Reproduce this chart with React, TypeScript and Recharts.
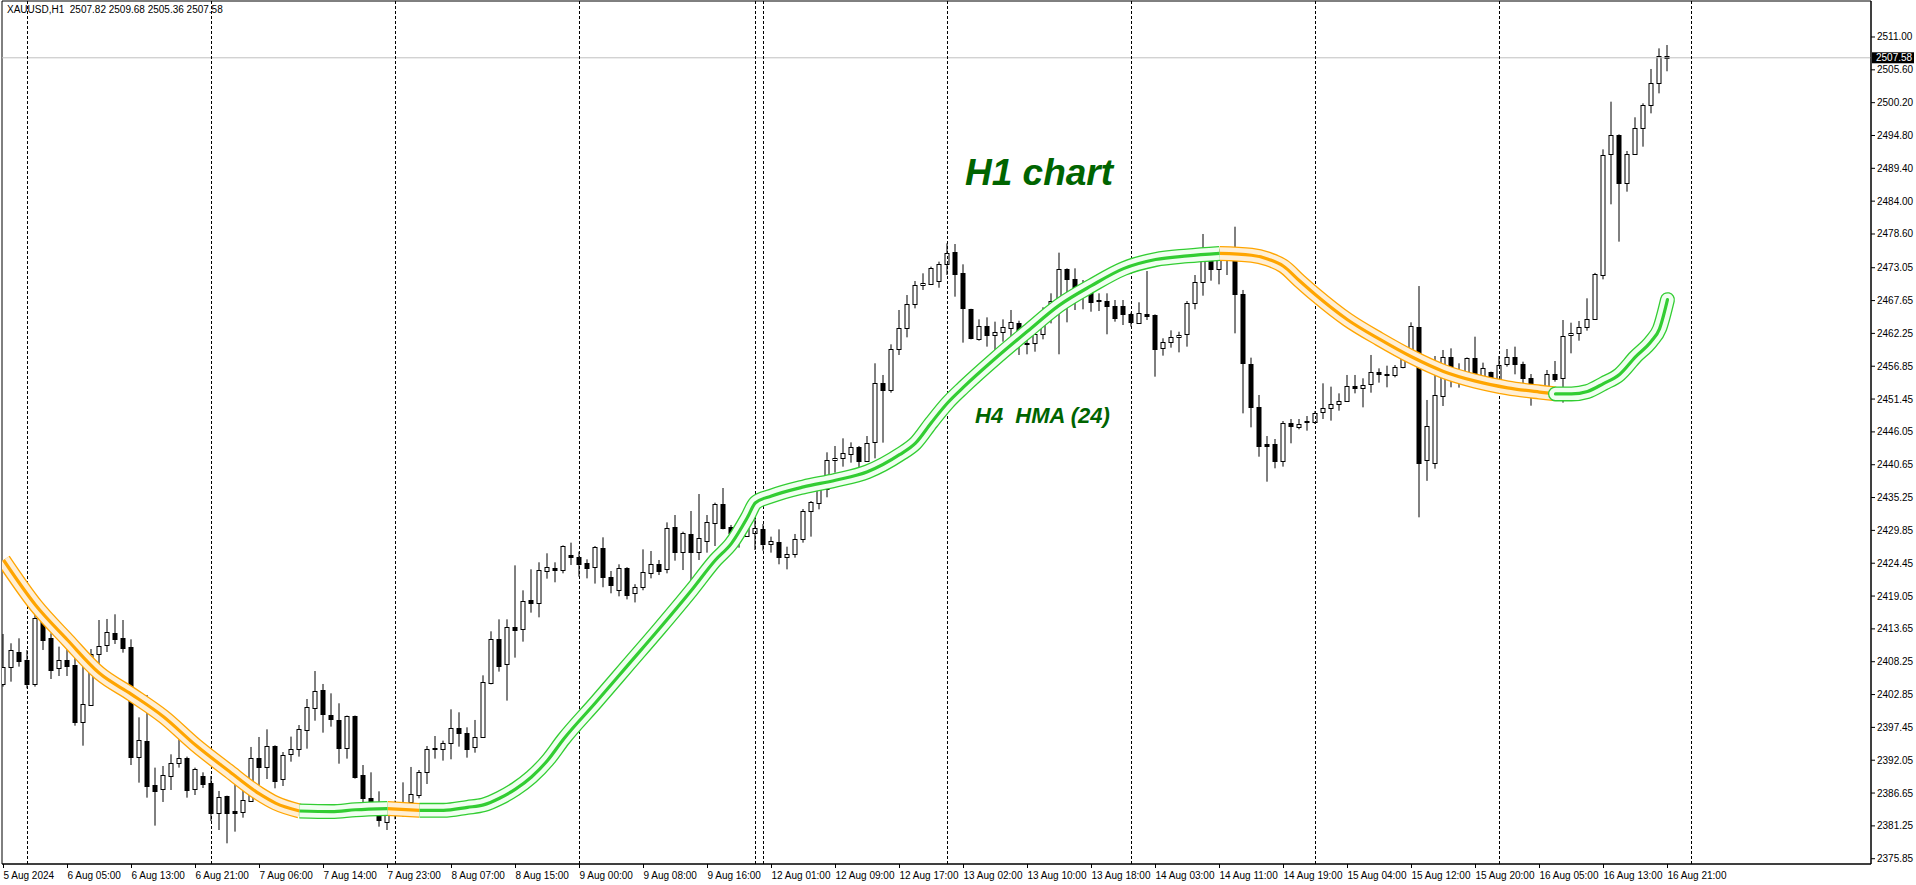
import { ComposedChart, Bar, Line, XAxis, YAxis, ReferenceLine, ReferenceArea } from 'recharts';

const timeLabels = [
  '5 Aug 2024', '6 Aug 05:00', '6 Aug 13:00', '6 Aug 21:00', '7 Aug 06:00', '7 Aug 14:00', '7 Aug 23:00',
  '8 Aug 07:00', '8 Aug 15:00', '9 Aug 00:00', '9 Aug 08:00', '9 Aug 16:00', '12 Aug 01:00', '12 Aug 09:00',
  '12 Aug 17:00', '13 Aug 02:00', '13 Aug 10:00', '13 Aug 18:00', '14 Aug 03:00', '14 Aug 11:00', '14 Aug 19:00',
  '15 Aug 04:00', '15 Aug 12:00', '15 Aug 20:00', '16 Aug 05:00', '16 Aug 13:00', '16 Aug 21:00',
];
const barsPerLabel = 8;

const priceTicks = [
  2511.0, 2505.6, 2500.2, 2494.8, 2489.4, 2484.0, 2478.6, 2473.05, 2467.65, 2462.25, 2456.85, 2451.45, 2446.05,
  2440.65, 2435.25, 2429.85, 2424.45, 2419.05, 2413.65, 2408.25, 2402.85, 2397.45, 2392.05, 2386.65, 2381.25, 2375.85,
];
const lastPrice = 2507.58;

// H1 bars, 5 Aug 21:00 .. 16 Aug 21:00
const opens = [
  2404.53, 2407.33, 2409.79, 2408.53, 2404.53, 2415.39, 2412.10, 2407.16, 2408.48, 2407.71,
  2398.39, 2401.19, 2409.47, 2410.95, 2412.97, 2412.15, 2410.67, 2392.64, 2395.21, 2387.97,
  2387.26, 2389.40, 2391.54, 2392.47, 2387.26, 2389.46, 2388.25, 2383.42, 2386.17, 2383.70,
  2383.59, 2385.40, 2392.42, 2390.99, 2394.39, 2388.91, 2393.02, 2393.84, 2396.97, 2400.69,
  2403.55, 2399.49, 2398.67, 2394.11, 2399.27, 2389.62, 2385.78, 2385.23, 2381.84, 2383.26,
  2384.25, 2385.12, 2386.28, 2390.06, 2394.06, 2393.95, 2394.83, 2397.30, 2396.47, 2394.17,
  2395.82, 2404.70, 2411.93, 2407.82, 2413.91, 2413.58, 2418.35, 2417.85, 2423.12, 2423.61,
  2423.34, 2425.80, 2425.42, 2424.43, 2423.77, 2426.90, 2422.24, 2420.00, 2423.61, 2419.50,
  2420.50, 2422.79, 2424.27, 2423.44, 2430.35, 2426.35, 2429.26, 2426.35, 2428.16, 2431.12,
  2434.13, 2430.35, 2429.53, 2428.98, 2429.47, 2430.02, 2427.56, 2427.99, 2425.53, 2425.91,
  2428.38, 2433.09, 2434.41, 2436.60, 2441.37, 2441.70, 2442.41, 2443.51, 2441.32, 2444.44,
  2454.04, 2452.94, 2459.63, 2463.08, 2467.03, 2470.15, 2470.32, 2470.87, 2473.61, 2475.58,
  2472.13, 2466.21, 2461.27, 2463.47, 2461.99, 2462.53, 2463.08, 2464.01, 2460.62, 2460.62,
  2462.10, 2465.55, 2467.74, 2472.79, 2471.14, 2468.46, 2469.39, 2467.74, 2467.58, 2466.76,
  2466.76, 2465.38, 2464.01, 2465.38, 2465.27, 2459.79, 2460.78, 2461.60, 2462.10, 2467.19,
  2470.76, 2474.43, 2472.79, 2474.98, 2474.60, 2468.67, 2457.16, 2450.09, 2444.00, 2444.06,
  2441.26, 2447.46, 2446.80, 2447.84, 2447.62, 2449.27, 2449.92, 2450.58, 2451.19, 2453.60,
  2453.21, 2453.87, 2455.85, 2455.57, 2455.35, 2456.67, 2457.98, 2463.36, 2441.50, 2441.00,
  2452.01, 2458.31, 2455.57, 2455.13, 2458.15, 2455.13, 2455.85, 2454.69, 2457.16, 2458.31,
  2457.16, 2454.86, 2452.23, 2452.56, 2455.57, 2454.86, 2461.93, 2462.26, 2463.25, 2464.56,
  2471.85, 2491.70, 2494.83, 2487.04, 2491.70, 2495.98, 2499.76, 2503.38, 2507.82,
];
const highs = [
  2412.81, 2411.28, 2412.10, 2410.18, 2418.13, 2417.31, 2412.92, 2410.73, 2412.26, 2411.44,
  2408.10, 2410.34, 2415.11, 2415.28, 2416.05, 2415.11, 2411.93, 2399.10, 2402.78, 2390.83,
  2391.10, 2393.02, 2395.49, 2392.64, 2390.83, 2390.06, 2389.46, 2386.99, 2386.22, 2388.14,
  2387.15, 2394.23, 2395.87, 2397.13, 2394.50, 2393.40, 2395.93, 2397.84, 2402.12, 2406.72,
  2404.59, 2403.05, 2401.41, 2399.40, 2399.40, 2391.26, 2390.06, 2386.93, 2384.14, 2385.40,
  2388.41, 2390.94, 2390.44, 2394.39, 2396.03, 2395.27, 2400.42, 2399.93, 2397.46, 2398.67,
  2406.01, 2413.25, 2415.22, 2415.22, 2424.10, 2419.99, 2423.45, 2424.60, 2426.08, 2424.60,
  2427.39, 2427.83, 2426.35, 2425.09, 2427.28, 2428.71, 2423.17, 2424.27, 2423.80, 2421.00,
  2426.73, 2426.46, 2424.98, 2431.17, 2432.38, 2429.64, 2433.04, 2435.83, 2432.38, 2434.41,
  2436.82, 2430.74, 2429.91, 2431.28, 2433.20, 2430.90, 2428.82, 2430.02, 2427.17, 2429.26,
  2433.37, 2434.68, 2437.31, 2442.69, 2443.73, 2444.99, 2444.33, 2443.73, 2445.37, 2457.33,
  2455.41, 2460.45, 2466.10, 2468.56, 2470.87, 2472.13, 2473.23, 2474.05, 2477.06, 2476.95,
  2473.61, 2466.30, 2464.56, 2464.89, 2464.18, 2464.56, 2466.10, 2464.34, 2461.82, 2463.47,
  2466.54, 2468.84, 2475.53, 2472.95, 2472.95, 2471.03, 2470.21, 2468.84, 2468.84, 2467.74,
  2467.74, 2465.66, 2467.36, 2472.51, 2465.38, 2461.44, 2462.75, 2462.53, 2467.58, 2471.85,
  2478.60, 2475.42, 2476.08, 2475.42, 2479.80, 2469.39, 2458.26, 2452.12, 2445.37, 2444.88,
  2447.84, 2448.17, 2448.17, 2448.66, 2449.49, 2454.04, 2453.49, 2452.39, 2455.41, 2455.41,
  2454.86, 2458.70, 2456.50, 2456.94, 2457.05, 2460.18, 2464.07, 2470.04, 2451.30, 2458.53,
  2459.52, 2459.79, 2457.33, 2458.30, 2461.71, 2457.44, 2455.96, 2458.53, 2459.68, 2460.07,
  2457.60, 2455.57, 2453.60, 2456.23, 2457.71, 2464.45, 2464.01, 2464.29, 2468.02, 2472.20,
  2492.52, 2500.36, 2494.99, 2492.25, 2497.79, 2500.09, 2505.74, 2509.13, 2509.68,
];
const lows = [
  2404.15, 2404.97, 2407.44, 2403.87, 2404.15, 2410.18, 2405.41, 2405.90, 2405.90, 2397.73,
  2394.44, 2401.08, 2407.71, 2409.85, 2411.17, 2409.74, 2391.26, 2388.36, 2385.89, 2381.29,
  2385.18, 2387.15, 2390.83, 2385.89, 2386.33, 2387.48, 2382.05, 2380.57, 2378.38, 2380.30,
  2382.60, 2385.23, 2387.97, 2388.96, 2387.43, 2387.81, 2391.81, 2392.64, 2393.95, 2398.55,
  2396.58, 2397.57, 2391.48, 2392.31, 2389.02, 2383.21, 2383.32, 2381.12, 2380.57, 2382.33,
  2382.77, 2384.25, 2385.78, 2388.14, 2392.31, 2391.98, 2392.20, 2394.28, 2392.47, 2393.29,
  2395.70, 2404.53, 2406.62, 2401.85, 2408.92, 2411.55, 2416.32, 2415.55, 2421.91, 2421.31,
  2422.79, 2424.16, 2422.24, 2421.96, 2421.10, 2420.50, 2419.50, 2419.00, 2418.50, 2418.00,
  2420.00, 2421.96, 2422.51, 2422.79, 2424.87, 2423.33, 2421.10, 2424.98, 2426.19, 2427.28,
  2430.02, 2426.90, 2427.01, 2428.82, 2426.62, 2426.51, 2426.19, 2424.27, 2423.44, 2425.36,
  2427.83, 2428.82, 2433.31, 2435.29, 2439.34, 2440.33, 2440.99, 2439.34, 2441.15, 2441.70,
  2444.28, 2452.50, 2458.70, 2461.60, 2466.37, 2469.39, 2470.21, 2469.77, 2471.85, 2468.29,
  2460.73, 2461.27, 2461.05, 2460.07, 2458.31, 2460.89, 2460.51, 2458.70, 2458.81, 2459.24,
  2461.27, 2463.90, 2458.81, 2464.07, 2466.10, 2466.21, 2465.82, 2465.93, 2462.10, 2464.18,
  2463.63, 2463.36, 2463.90, 2464.45, 2455.13, 2458.59, 2459.90, 2459.13, 2460.07, 2466.21,
  2468.45, 2470.92, 2470.32, 2471.85, 2462.26, 2449.10, 2446.80, 2441.97, 2437.86, 2440.06,
  2440.33, 2444.17, 2446.47, 2446.25, 2447.35, 2448.17, 2447.90, 2449.54, 2451.02, 2452.39,
  2450.09, 2452.50, 2454.15, 2453.38, 2455.02, 2456.50, 2457.60, 2432.00, 2438.00, 2440.00,
  2450.31, 2453.38, 2453.33, 2454.58, 2453.93, 2454.69, 2454.31, 2454.31, 2456.78, 2455.52,
  2453.38, 2450.36, 2451.68, 2452.39, 2454.31, 2450.86, 2458.97, 2461.05, 2462.70, 2464.50,
  2471.14, 2483.48, 2477.34, 2485.56, 2491.59, 2492.96, 2498.44, 2501.73, 2505.36,
];
const closes = [
  2407.33, 2410.12, 2408.42, 2404.53, 2415.39, 2411.88, 2406.94, 2408.48, 2407.60, 2398.39,
  2401.30, 2409.47, 2410.78, 2413.08, 2412.04, 2410.56, 2392.64, 2395.38, 2387.87, 2387.04,
  2389.56, 2391.54, 2392.36, 2387.21, 2390.61, 2388.08, 2383.42, 2386.00, 2383.42, 2383.42,
  2385.51, 2392.36, 2390.99, 2394.33, 2388.69, 2392.85, 2393.84, 2397.13, 2400.75, 2403.38,
  2399.60, 2398.78, 2394.11, 2399.27, 2389.34, 2385.78, 2385.18, 2382.16, 2383.32, 2384.25,
  2385.07, 2386.50, 2390.06, 2393.84, 2393.84, 2394.83, 2397.30, 2396.47, 2393.95, 2395.82,
  2404.86, 2411.93, 2407.60, 2413.91, 2413.41, 2418.29, 2417.85, 2423.28, 2423.78, 2423.28,
  2427.28, 2425.42, 2424.27, 2423.61, 2427.06, 2422.13, 2420.80, 2423.61, 2419.30, 2420.50,
  2422.95, 2424.27, 2423.22, 2430.19, 2426.35, 2429.36, 2426.35, 2428.54, 2431.17, 2434.13,
  2430.30, 2429.47, 2428.65, 2430.74, 2430.19, 2427.56, 2428.16, 2425.53, 2425.97, 2428.38,
  2433.09, 2434.46, 2436.60, 2441.43, 2441.70, 2442.52, 2443.62, 2441.32, 2444.17, 2454.04,
  2452.94, 2459.63, 2463.08, 2467.03, 2470.15, 2470.48, 2472.95, 2473.61, 2475.42, 2471.96,
  2466.37, 2461.44, 2463.47, 2461.99, 2462.42, 2463.25, 2464.07, 2460.45, 2460.45, 2462.10,
  2465.71, 2467.58, 2472.79, 2471.14, 2468.46, 2469.39, 2467.47, 2467.58, 2466.81, 2464.84,
  2465.39, 2464.07, 2465.55, 2465.17, 2459.63, 2460.78, 2461.60, 2461.99, 2467.19, 2470.76,
  2474.43, 2472.79, 2474.98, 2474.54, 2468.67, 2457.33, 2450.09, 2443.78, 2443.78, 2441.32,
  2447.46, 2447.02, 2447.29, 2447.62, 2449.10, 2449.92, 2450.64, 2451.19, 2453.60, 2453.21,
  2453.76, 2455.85, 2455.63, 2455.35, 2456.67, 2457.98, 2463.47, 2440.90, 2447.00, 2452.12,
  2458.31, 2455.41, 2455.13, 2458.15, 2455.30, 2456.50, 2454.47, 2457.05, 2458.31, 2457.16,
  2454.86, 2452.23, 2452.56, 2455.52, 2454.75, 2461.82, 2462.26, 2463.25, 2464.56, 2472.02,
  2491.59, 2494.83, 2487.04, 2491.70, 2495.98, 2499.76, 2503.38, 2507.82, 2507.58,
];

// H4 HMA(24) read at selected H1 bar positions
const hmaIndex = [
  0, 4, 8, 12, 16, 20, 24, 28, 32, 34, 37, 41, 44, 48, 52, 55, 58, 60, 62, 64, 66, 68, 70, 74, 78, 82, 86, 89,
  91, 93, 94, 96, 100, 104, 108, 112, 114, 116, 118, 120, 124, 128, 132, 136, 140, 144, 148, 152, 156, 158, 160,
  162, 164, 168, 172, 176, 180, 184, 188, 192, 194, 196, 198, 200, 202, 204, 206, 207, 208,
];
const hmaValue = [
  2424.98, 2417.58, 2411.82, 2406.34, 2402.89, 2399.21, 2394.55, 2390.44, 2386.5, 2385.0, 2383.7, 2383.6, 2383.9,
  2384.1, 2383.8, 2383.8, 2384.3, 2384.7, 2385.8, 2387.3, 2389.3, 2392.0, 2395.5, 2401.5, 2407.6, 2413.7, 2420.0,
  2424.98, 2427.72, 2432.0, 2434.4, 2435.5, 2437.0, 2438.1, 2439.5, 2442.3, 2444.2, 2447.6, 2450.8, 2453.4, 2458.15,
  2462.6, 2466.9, 2470.1, 2472.9, 2474.4, 2475.0, 2475.4, 2475.1, 2474.5, 2473.3, 2470.9, 2468.6, 2464.5, 2461.3,
  2458.4, 2456.0, 2454.4, 2453.3, 2452.6, 2452.3, 2452.3, 2452.7, 2454.0, 2455.5, 2458.4, 2461.0, 2463.0, 2467.8,
];
const hmaFalling = [[0, 37], [48, 52], [152, 194]];
const hmaRising = [[37, 48], [52, 152], [194, 208]];

// day separators (bar index)
const separators = [3, 26, 49, 72, 94, 95, 118, 141, 164, 187, 211];

const candles = opens.map((open, i) => ({
  i,
  open,
  high: highs[i],
  low: lows[i],
  close: closes[i],
  range: [lows[i], highs[i]],
}));

const hmaPoints = hmaIndex.map((i, k) => ({ i, v: hmaValue[k] }));
const lastHma = hmaIndex[hmaIndex.length - 1];
const segment = ([a, b]: number[]) => hmaPoints.filter((p) => p.i >= a && p.i <= b);

const W = 1916;
const H = 885;
const xDomain = [-0.1875, 233.4375];
const yDomain = [2374.98, 2516.92];
const font = '"Liberation Sans", Arial, sans-serif';

function Candle(props: any) {
  const { x, y, width, height, payload } = props;
  if (payload == null || height == null) return null;
  const cx = x + width / 2;
  const top = Math.min(y, y + height);
  const h = Math.abs(height);
  const { open, close, high, low } = payload;
  const k = h / (high - low || 1);
  const yo = top + (high - open) * k;
  const yc = top + (high - close) * k;
  const bTop = Math.round(Math.min(yo, yc)) + 0.5;
  const bBot = Math.max(Math.round(Math.max(yo, yc)) + 0.5, bTop + 1);
  const up = close >= open;
  return (
    <g>
      <line x1={cx} x2={cx} y1={top} y2={top + h} stroke="#000" strokeWidth={1} />
      <rect x={cx - 2} y={bTop} width={4} height={bBot - bTop} fill={up ? '#fff' : '#000'} stroke="#000" strokeWidth={1} />
    </g>
  );
}

function TimeTick(props: any) {
  const { x, y, payload } = props;
  const label = timeLabels[Math.round(payload.value / barsPerLabel)];
  return (
    <g>
      <line x1={x} x2={x} y1={y} y2={y + 4} stroke="#000" />
      <text x={x} y={y + 15} fontSize={10} fontFamily={font} fill="#000" textAnchor="start">
        {label}
      </text>
    </g>
  );
}

function PriceTick(props: any) {
  const { x, y, payload } = props;
  const v = payload.value as number;
  if (v === lastPrice) {
    return (
      <g>
        <rect x={x + 1} y={y - 5.5} width={42} height={11} fill="#000" />
        <text x={x + 5} y={y + 3.5} fontSize={10} fontFamily={font} fill="#fff">
          {v.toFixed(2)}
        </text>
      </g>
    );
  }
  return (
    <g>
      <line x1={x} x2={x + 4} y1={y} y2={y} stroke="#000" />
      <text x={x + 6} y={y + 3.5} fontSize={10} fontFamily={font} fill="#000">
        {v.toFixed(2)}
      </text>
    </g>
  );
}

export default function App() {
  // each HMA piece: wide colour stroke, pale fill inside, thick centre line
  const bandLines = (segs: number[][], color: string, light: string) =>
    segs.flatMap((s, n) => {
      const cap = s[1] === lastHma ? 'round' : 'butt';
      const common = {
        data: segment(s),
        dataKey: 'v',
        type: 'monotone' as const,
        dot: false,
        activeDot: false,
        strokeLinecap: cap as any,
        strokeLinejoin: 'round' as const,
        isAnimationActive: false,
      };
      return [
        <Line key={`o${color}${n}`} {...common} stroke={color} strokeWidth={15} />,
        <Line key={`l${color}${n}`} {...common} stroke={light} strokeWidth={12.4} />,
        <Line key={`c${color}${n}`} {...common} stroke={color} strokeWidth={3.2} />,
      ];
    });

  return (
    <div style={{ position: 'relative', width: W, height: H, background: '#fff' }}>
      <style>{'body{margin:0}'}</style>
      <ComposedChart width={W} height={H} data={candles} margin={{ top: 1, right: 0, bottom: 0, left: 2 }}>
        <XAxis
          dataKey="i"
          type="number"
          domain={xDomain}
          allowDataOverflow
          ticks={timeLabels.map((_, k) => k * barsPerLabel)}
          interval={0}
          tick={<TimeTick />}
          tickLine={false}
          tickSize={0}
          tickMargin={0}
          axisLine={{ stroke: '#000' }}
          height={21}
        />
        <YAxis
          orientation="right"
          type="number"
          domain={yDomain}
          allowDataOverflow
          ticks={[...priceTicks, lastPrice]}
          interval={0}
          tick={<PriceTick />}
          tickLine={false}
          tickSize={0}
          tickMargin={0}
          axisLine={{ stroke: '#000' }}
          width={45}
        />
        <ReferenceArea x1={xDomain[0]} x2={xDomain[1]} y1={yDomain[0]} y2={yDomain[1]} fill="none" stroke="#000" ifOverflow="visible" />
        <ReferenceLine y={lastPrice} stroke="#c0c0c0" />
        {separators.map((s) => (
          <ReferenceLine key={s} x={s} stroke="#000" strokeDasharray="3 2" />
        ))}
        {bandLines(hmaFalling, '#ffa500', '#ffefd5')}
        {bandLines(hmaRising, '#32cd32', '#f0fff0')}
        <Bar dataKey="range" barSize={5} shape={<Candle />} isAnimationActive={false} />
      </ComposedChart>
      <svg width={W} height={H} style={{ position: 'absolute', left: 0, top: 0, pointerEvents: 'none' }}>
        <text x={7} y={13} fontSize={10} fontFamily={font} fill="#000" style={{ whiteSpace: 'pre' }}>
          {'XAUUSD,H1  2507.82 2509.68 2505.36 2507.58'}
        </text>
        <text x={965} y={185} fontSize={37} fontWeight="bold" fontStyle="italic" fontFamily={font} fill="#006400">
          H1 chart
        </text>
        <text x={975} y={423} fontSize={22} fontWeight="bold" fontStyle="italic" fontFamily={font} fill="#006400" style={{ whiteSpace: 'pre' }}>
          {'H4  HMA (24)'}
        </text>
      </svg>
    </div>
  );
}
